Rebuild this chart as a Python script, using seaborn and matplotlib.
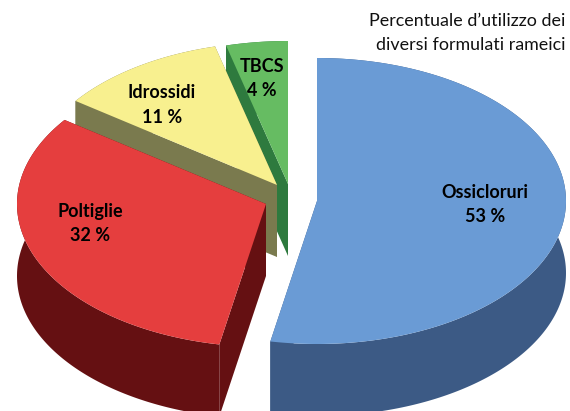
import numpy as np
import matplotlib
matplotlib.use("Agg")
import matplotlib.pyplot as plt
import seaborn as sns

categories = ["Ossicloruri", "Poltiglie", "Idrossidi", "TBCS"]
shares = [53, 32, 11, 4]
title_lines = ["Percentuale d\u2019utilizzo dei", "diversi formulati rameici"]

sns.set_theme(style="white")
plt.rcParams['font.family'] = ['Lato', 'DejaVu Sans']

top_cols = sns.color_palette(["#6A9BD5", "#E53E3E", "#F8F08F", "#66BC62"])
side_cols = sns.color_palette(["#3C5A85", "#651012", "#7A7A4E", "#2E7A3E"])

# pie geometry, in pixels of the picture
rx, ry, depth = 249, 143, 72
centres = [(317, 201), (266, 204), (277, 185), (288, 184)]
label_pos = [(485, 204), (90, 223), (162, 105), (262, 78)]

fig, ax = plt.subplots(figsize=(5.7, 4.11), dpi=100)
fig.subplots_adjust(left=0, right=1, bottom=0, top=1)
ax.set_xlim(0, 570)
ax.set_ylim(411, 0)
ax.axis("off")


def rim(c, a0, a1):
    t = np.radians(np.linspace(a0, a1, 200))
    return c[0] + rx * np.cos(t), c[1] - ry * np.sin(t)


# slices go clockwise from twelve o'clock
edges = 90 - np.cumsum([0] + shares) * 3.6

# back slices first, so the nearer ones cover them
for i in [3, 2, 1, 0]:
    c = centres[i]
    a0, a1 = edges[i], edges[i + 1]
    x, y = rim(c, a0, a1)

    # flat cut faces
    ax.fill([c[0], x[0], x[0], c[0]],
            [c[1], y[0], y[0] + depth, c[1] + depth],
            color=side_cols[i], lw=0, zorder=i * -3 + 10)
    ax.fill([c[0], x[-1], x[-1], c[0]],
            [c[1], y[-1], y[-1] + depth, c[1] + depth],
            color=side_cols[i], lw=0, zorder=i * -3 + 10)

    # outer wall
    ax.fill(np.r_[x, x[::-1]], np.r_[y, y[::-1] + depth],
            color=side_cols[i], lw=0, zorder=i * -3 + 11)

    # top
    ax.fill(np.r_[c[0], x], np.r_[c[1], y],
            color=top_cols[i], lw=0, zorder=i * -3 + 12)

for name, val, p in zip(categories, shares, label_pos):
    ax.text(p[0], p[1] - 12, name, ha="center", va="center", fontsize=13,
            fontweight="bold", color="black", zorder=30)
    ax.text(p[0], p[1] + 12, f"{val} %", ha="center", va="center", fontsize=13,
            fontweight="bold", color="black", zorder=30)

ax.text(565, 20.5, title_lines[0], ha="right", va="center", fontsize=12.9, color="#111111", zorder=30)
ax.text(565, 44.5, title_lines[1], ha="right", va="center", fontsize=12.9, color="#111111", zorder=30)

sns.despine(ax=ax, left=True, bottom=True)
fig.savefig("out.png", dpi=100)
